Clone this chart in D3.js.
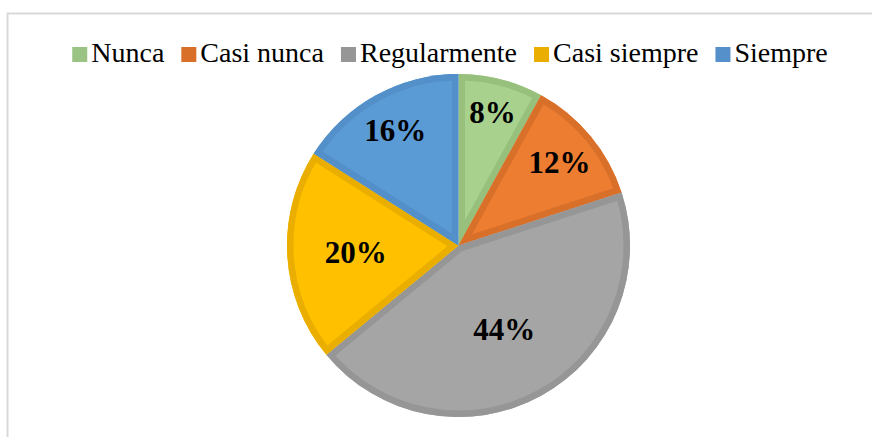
<!DOCTYPE html>
<html>
<head>
<meta charset="utf-8">
<script src="https://cdn.jsdelivr.net/npm/d3@7"></script>
<style>
  html, body { margin: 0; padding: 0; background: #ffffff; }
  svg { display: block; }
</style>
</head>
<body>
<svg id="chart" width="872" height="437"></svg>
<script>
// ---- data ----
const categories = ["Nunca", "Casi nunca", "Regularmente", "Casi siempre", "Siempre"];
const values = [8, 12, 44, 20, 16];
const labels = ["8%", "12%", "44%", "20%", "16%"];

// ---- styles / layout ----
const fills   = ["#A9D18E", "#ED7D31", "#A5A5A5", "#FFC000", "#5B9BD5"];
const strokes = ["#98C07D", "#D8702A", "#969696", "#E9AE00", "#5390C9"];
const legendFills = ["#9BC384", "#D8702A", "#969696", "#E9AE00", "#5590CA"];
const labelRadiusFactor = [0.80, 0.765, 0.555, 0.60, 0.765];

const svg = d3.select("#chart");
const W = 872, H = 437;

// frame
svg.append("rect")
  .attr("x", 7.5).attr("y", 13.5)
  .attr("width", 900).attr("height", 500)
  .attr("fill", "none")
  .attr("stroke", "#D9D9D9")
  .attr("stroke-width", 2);

// pie
const cx = 458.5, cy = 245.5, R = 171.5;
const pie = d3.pie().sort(null).value(d => d)(values);
const arc = d3.arc().innerRadius(0).outerRadius(R);

const defs = svg.append("defs");
const g = svg.append("g").attr("transform", `translate(${cx},${cy})`);

pie.forEach((p, i) => {
  defs.append("clipPath").attr("id", "clip" + i)
    .append("path").attr("d", arc(p));
  const sg = g.append("g");
  sg.append("path")
    .attr("d", arc(p))
    .attr("fill", fills[i]);
  sg.append("path")
    .attr("d", arc(p))
    .attr("fill", "none")
    .attr("stroke", strokes[i])
    .attr("stroke-width", 13)
    .attr("stroke-linejoin", "miter")
    .attr("clip-path", `url(#clip${i})`);
});

// labels
pie.forEach((p, i) => {
  const a = (p.startAngle + p.endAngle) / 2;
  const rr = R * labelRadiusFactor[i];
  g.append("text")
    .attr("x", rr * Math.sin(a))
    .attr("y", -rr * Math.cos(a))
    .attr("dy", "0.35em")
    .attr("text-anchor", "middle")
    .attr("font-family", "'Liberation Serif', 'Times New Roman', serif")
    .attr("font-weight", "bold")
    .attr("font-size", 31)
    .attr("fill", "#000")
    .text(labels[i]);
});

// legend
const legend = svg.append("g");
const sq = 15, gap = 4, itemGap = 17, fontSize = 28;
let x = 0;
const items = [];
categories.forEach((c, i) => {
  const it = legend.append("g");
  it.append("rect").attr("x", 0).attr("y", 47).attr("width", sq).attr("height", sq)
    .attr("fill", legendFills[i]);
  const t = it.append("text")
    .attr("x", sq + gap).attr("y", 62)
    .attr("font-family", "'Liberation Serif', 'Times New Roman', serif")
    .attr("font-size", fontSize)
    .attr("fill", "#000")
    .text(c);
  const w = sq + gap + t.node().getComputedTextLength();
  items.push({ it, w });
});
const total = items.reduce((s, d) => s + d.w, 0) + itemGap * (items.length - 1);
x = 450 - total / 2;
items.forEach(d => {
  d.it.attr("transform", `translate(${x},0)`);
  x += d.w + itemGap;
});
</script>
</body>
</html>
